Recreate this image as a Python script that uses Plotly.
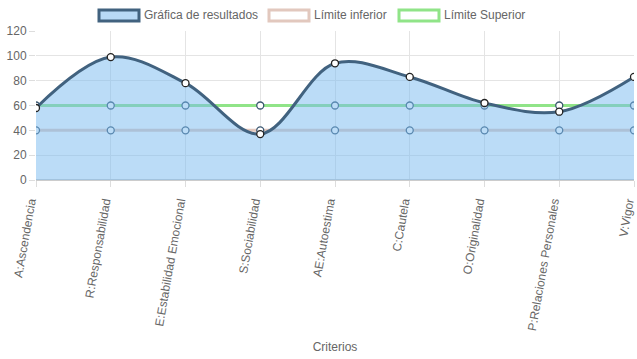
import plotly.graph_objects as go

categories = ["A:Ascendencia", "R:Responsabilidad", "E:Estabilidad Emocional",
              "S:Sociabilidad", "AE:Autoestima", "C:Cautela", "O:Originalidad",
              "P:Relaciones Personales", "V:Vigor"]
resultados = [58, 99, 78, 37, 94, 83, 62, 55, 83]
limite_inferior = [40, 40, 40, 40, 40, 40, 40, 40, 40]
limite_superior = [60, 60, 60, 60, 60, 60, 60, 60, 60]
series_names = ["Gráfica de resultados", "Límite inferior", "Límite Superior"]

font = "Liberation Sans, Arial, sans-serif"
C_RES = "#41627f"
C_INF = "rgb(226,200,190)"
C_SUP = "rgb(144,228,136)"

W, H = 637, 359
L, R, T, B = 36, 3, 31, 179
PW, PH = W - L - R, H - T - B

def px_x(p):
    return (p - L) / PW

def px_y(p):
    return (H - B - p) / PH

fig = go.Figure()
fig.add_trace(go.Scatter(
    x=categories, y=limite_inferior, mode="lines+markers", name=series_names[1],
    line=dict(color=C_INF, width=3),
    marker=dict(size=7, color="white", line=dict(color="#3a5670", width=1.3)),
))
fig.add_trace(go.Scatter(
    x=categories, y=limite_superior, mode="lines+markers", name=series_names[2],
    line=dict(color=C_SUP, width=3),
    marker=dict(size=7, color="white", line=dict(color="#3a5670", width=1.3)),
))
fig.add_trace(go.Scatter(
    x=categories, y=resultados, mode="lines+markers", name=series_names[0],
    line=dict(color=C_RES, width=3, shape="spline", smoothing=1.0),
    fill="tozeroy", fillcolor="rgba(120,185,240,0.5)",
    marker=dict(size=7, color="white", line=dict(color="#222", width=1.3)),
))

# Chart.js-style legend boxes
legend_items = [
    (series_names[0], "#b8d9f6", C_RES, 99, 139),
    (series_names[1], "white", C_INF, 269, 309),
    (series_names[2], "white", C_SUP, 399, 439),
]
for name, fillc, linec, x0, x1 in legend_items:
    fig.add_shape(type="rect", xref="paper", yref="paper",
                  x0=px_x(x0), x1=px_x(x1), y0=px_y(21), y1=px_y(10),
                  fillcolor=fillc, line=dict(color=linec, width=3))
    fig.add_annotation(xref="paper", yref="paper", x=px_x(x1 + 5), y=px_y(15.5),
                       text=name, showarrow=False, xanchor="left", yanchor="middle",
                       xshift=-2, font=dict(size=12, color="#666", family=font))

fig.update_layout(
    width=W, height=H,
    margin=dict(l=L, r=R, t=T, b=B, autoexpand=False),
    paper_bgcolor="white", plot_bgcolor="white",
    font=dict(family=font, size=12, color="#666"),
    showlegend=False,
    xaxis=dict(type="category", range=[0, 8], showgrid=True, gridcolor="#e4e4e4",
               tickangle=-80, ticks="outside", ticklen=6, tickcolor="#ddd",
               ticklabelshift=-6, ticklabelstandoff=3,
               showline=True, linecolor="#ccc", linewidth=1, automargin=False,
               title=dict(text="Criterios", font=dict(size=12, color="#666"), standoff=11),
               tickfont=dict(size=12, color="#666")),
    yaxis=dict(range=[0, 120], dtick=20, showgrid=True, gridcolor="#e4e4e4",
               ticks="outside", ticklen=6, tickcolor="#ddd", zeroline=True,
               zerolinecolor="#ccc", zerolinewidth=2, automargin=False,
               tickfont=dict(size=12, color="#666")),
)

fig.write_html("out.html", config={"displayModeBar": False},
               post_script="document.body.style.margin='0';document.body.style.padding='0';")
